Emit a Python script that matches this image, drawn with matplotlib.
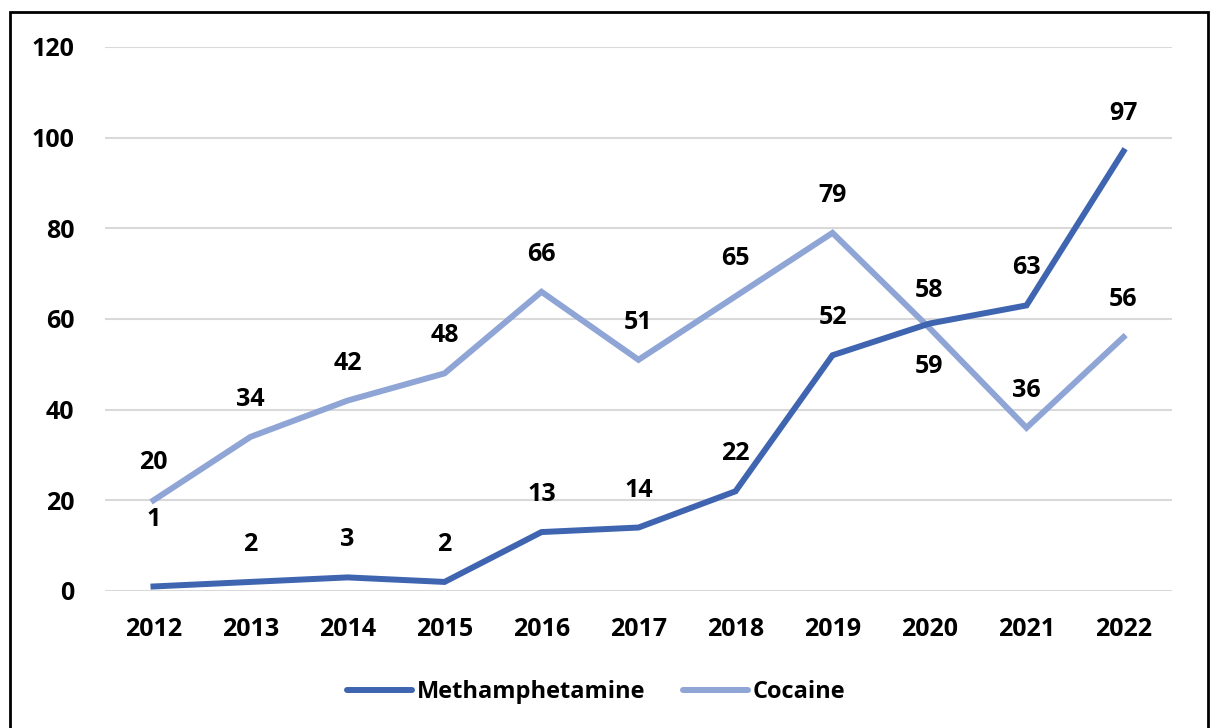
import matplotlib.pyplot as plt
from matplotlib import patches

years = ["2012", "2013", "2014", "2015", "2016", "2017", "2018", "2019", "2020", "2021", "2022"]
meth = [1, 2, 3, 2, 13, 14, 22, 52, 59, 63, 97]
cocaine = [20, 34, 42, 48, 66, 51, 65, 79, 58, 36, 56]

meth_color = "#3F65B0"
coc_color = "#8FA5D6"

plt.rcParams['font.family'] = ['Open Sans', 'DejaVu Sans']
plt.rcParams['font.weight'] = 'bold'
fs = 18

fig = plt.figure(figsize=(12.17, 7.28), dpi=100)
ax = fig.add_axes([105/1217, 1-591/728, (1172-105)/1217, (591-47)/728])

x = range(len(years))
ax.plot(x, cocaine, color=coc_color, lw=4.3, solid_joinstyle='miter', label="Cocaine", zorder=3)
ax.plot(x, meth, color=meth_color, lw=4.3, solid_joinstyle='miter', label="Methamphetamine", zorder=4)

# label offsets in points; a couple of labels were nudged
meth_off = {0: 48, 8: -31}
for i, v in enumerate(cocaine):
    ax.annotate(str(v), (i, v), xytext=(0, 27), textcoords='offset points',
                ha='center', va='center', fontsize=fs, fontweight='bold')
for i, v in enumerate(meth):
    ax.annotate(str(v), (i, v), xytext=(0, meth_off.get(i, 27)), textcoords='offset points',
                ha='center', va='center', fontsize=fs, fontweight='bold')

ax.set_xlim(-0.5, 10.5)
ax.set_ylim(0, 120)
ax.set_yticks(range(0, 121, 20))
ax.set_xticks(list(x))
ax.set_xticklabels(years)
ax.grid(axis='y', color='#D9D9D9', lw=1.5)
ax.set_axisbelow(True)
for s in ax.spines.values():
    s.set_visible(False)
ax.tick_params(length=0, labelsize=fs, pad=19)
ax.tick_params(axis='y', pad=22)

handles, labels = ax.get_legend_handles_labels()
leg = fig.legend(handles[::-1], labels[::-1], loc='center', bbox_to_anchor=(596/1217, 1-692/728),
                 ncol=2, frameon=False, fontsize=17, handlelength=2.75, handletextpad=0.2,
                 columnspacing=1.6)
for ln in leg.get_lines():
    ln.set_solid_capstyle('round')

# outer frame
fig.patches.append(patches.Rectangle((10/1217, -0.05), (1208-10)/1217, 1.05-12/728,
                                     transform=fig.transFigure, fill=False,
                                     edgecolor='black', lw=2))

fig.savefig("out.png", dpi=100)
